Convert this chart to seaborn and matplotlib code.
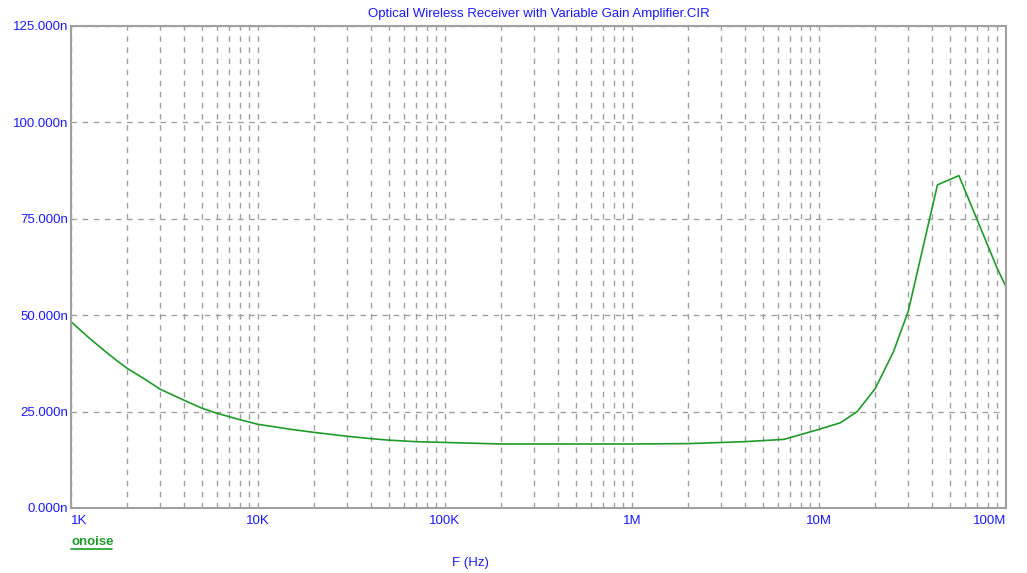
import matplotlib
matplotlib.use("Agg")
import matplotlib.pyplot as plt
import seaborn as sns
import pandas as pd
import numpy as np
from matplotlib.ticker import FixedLocator, NullFormatter

# Data (frequency in Hz, output noise in nV)
freq_hz = [1e3, 1.25e3, 1.5e3, 1.75e3, 2e3, 2.5e3, 3e3, 4e3, 5e3, 6e3, 7e3, 8e3,
           1e4, 1.5e4, 2e4, 3e4, 4e4, 5e4, 7e4, 1e5, 2e5, 5e5, 1e6, 2e6, 4e6,
           6.5e6, 1e7, 1.3e7, 1.6e7, 2e7, 2.5e7, 3e7, 4.3e7, 5.6e7, 9e7, 1e8]
onoise_n = [48.3, 44.1, 40.9, 38.3, 36.2, 33.3, 30.8, 28.0, 25.9, 24.6, 23.7,
            22.9, 21.7, 20.4, 19.6, 18.6, 18.0, 17.6, 17.2, 17.0, 16.6, 16.6,
            16.6, 16.7, 17.2, 17.8, 20.4, 22.1, 25.0, 31.0, 40.5, 51.0, 83.8,
            86.2, 62.0, 57.4]
y_ticks = [0, 25, 50, 75, 100, 125]
y_tick_labels = ["0.000n", "25.000n", "50.000n", "75.000n", "100.000n", "125.000n"]
x_ticks = [1e3, 1e4, 1e5, 1e6, 1e7, 1e8]
x_tick_labels = ["1K", "10K", "100K", "1M", "10M", "100M"]
title = "Optical Wireless Receiver with Variable Gain Amplifier.CIR"
series_name = "onoise"
x_label = "F (Hz)"

df = pd.DataFrame({"F": freq_hz, "onoise": onoise_n})

sns.set_style("white")
plt.rcParams["font.family"] = ["Liberation Sans", "DejaVu Sans"]

W, H = 1027, 573
fig = plt.figure(figsize=(W / 100, H / 100), dpi=100)
ax = fig.add_axes([71 / W, 1 - 508 / H, (1006 - 71) / W, (508 - 26) / H])

blue = "#1a1aff"
green = "#1f9b2a"
grid_c = "#a0a0a0"

sns.lineplot(data=df, x="F", y="onoise", ax=ax, color=green, linewidth=1.2,
             legend=False)
ax.set_xscale("log")
ax.set_xlim(1e3, 1e8)
ax.set_ylim(0, 125)

minors = [m * 10 ** e for e in range(3, 8) for m in range(2, 10)]
ax.xaxis.set_major_locator(FixedLocator(x_ticks))
ax.xaxis.set_minor_locator(FixedLocator(minors))
ax.xaxis.set_minor_formatter(NullFormatter())
ax.set_xticks(x_ticks)
ax.set_xticklabels(x_tick_labels)
ax.set_yticks(y_ticks)
ax.set_yticklabels(y_tick_labels)

ax.grid(True, which="both", axis="x", color=grid_c, linestyle=(0, (4, 4)), linewidth=1)
ax.grid(True, which="major", axis="y", color=grid_c, linestyle=(0, (4, 4)), linewidth=1)
ax.set_axisbelow(True)

for s in ax.spines.values():
    s.set_color(grid_c)
    s.set_linewidth(1.5)

ax.tick_params(axis="both", which="both", length=0, colors=blue, labelsize=9.5)
ax.tick_params(axis="x", pad=5)
ax.tick_params(axis="y", pad=2)
xl = ax.get_xticklabels()
xl[0].set_ha("left")
xl[-1].set_ha("right")
for lbl in ax.get_xticklabels() + ax.get_yticklabels():
    lbl.set_color(blue)

ax.set_xlabel("")
ax.set_ylabel("")

fig.text(538.5 / W, 1 - 14 / H, title, color=blue, ha="center", va="center",
         fontsize=9.5)
fig.text(71 / W, 1 - 542 / H, series_name, color=green, ha="left", va="center",
         fontsize=9.5, fontweight="bold")
fig.add_artist(plt.Line2D([71 / W, 112 / W], [1 - 549 / H, 1 - 549 / H],
                          color=green, linewidth=1.2))
fig.text(470 / W, 1 - 563 / H, x_label, color=blue, ha="center", va="center",
         fontsize=9.5)

fig.savefig("out.png", dpi=100, facecolor="white")
